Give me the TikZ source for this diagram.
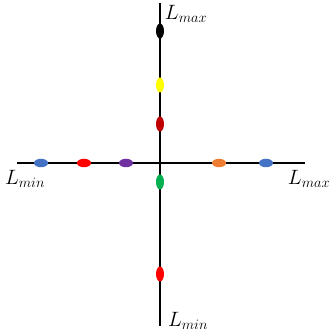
\documentclass[tikz,border=0pt]{standalone}
\usepackage{xcolor}
\usepackage{tikz}
\usetikzlibrary{shapes.geometric}

\definecolor{azul}{HTML}{4472C4}
\definecolor{vermelho}{HTML}{FF0000}
\definecolor{roxo}{HTML}{7030A0}
\definecolor{laranja}{HTML}{ED7D31}
\definecolor{amarelo}{HTML}{FFFF00}
\definecolor{vinho}{HTML}{C00000}
\definecolor{verde}{HTML}{00B050}

\begin{document}
\begin{tikzpicture}[
    x=1pt, y=1pt,
    eixo/.style={line width=1.4pt},
    pontov/.style={ellipse, minimum width=8pt, minimum height=15pt,
        inner sep=0pt, fill=#1},
    pontoh/.style={ellipse, minimum width=14pt, minimum height=8.5pt,
        inner sep=0pt, fill=#1},
    rotulo/.style={font=\huge, inner sep=0pt}
]
    \useasboundingbox (0,0) rectangle (329,335);

    % eixos
    \coordinate (topo) at (160,332);
    \coordinate (base) at (160,9);
    \coordinate (esq) at (17,172);
    \coordinate (dir) at (305,172);
    \draw[eixo] (topo) -- (base);
    \draw[eixo] (esq) -- (dir);

    % pontos no eixo vertical
    \node[pontov=black] (preto) at (160,304) {};
    \node[pontov=amarelo] (amar) at (160,250) {};
    \node[pontov=vinho] (vinho) at (160,211) {};
    \node[pontov=verde] (verde) at (160,153) {};
    \node[pontov=vermelho] (vermv) at (160,61) {};

    % pontos no eixo horizontal
    \node[pontoh=azul] (azul1) at (41,172) {};
    \node[pontoh=vermelho] (vermh) at (84,172) {};
    \node[pontoh=roxo] (roxo) at (126,172) {};
    \node[pontoh=laranja] (laranja) at (219,172) {};
    \node[pontoh=azul] (azul2) at (266,172) {};

    % rotulos
    \node[rotulo] (maxv) at (186,321) {$L_{max}$};
    \node[rotulo] (minh) at (25,156) {$L_{min}$};
    \node[rotulo] (maxh) at (309,156) {$L_{max}$};
    \node[rotulo] (minv) at (188,14) {$L_{min}$};
\end{tikzpicture}
\end{document}
